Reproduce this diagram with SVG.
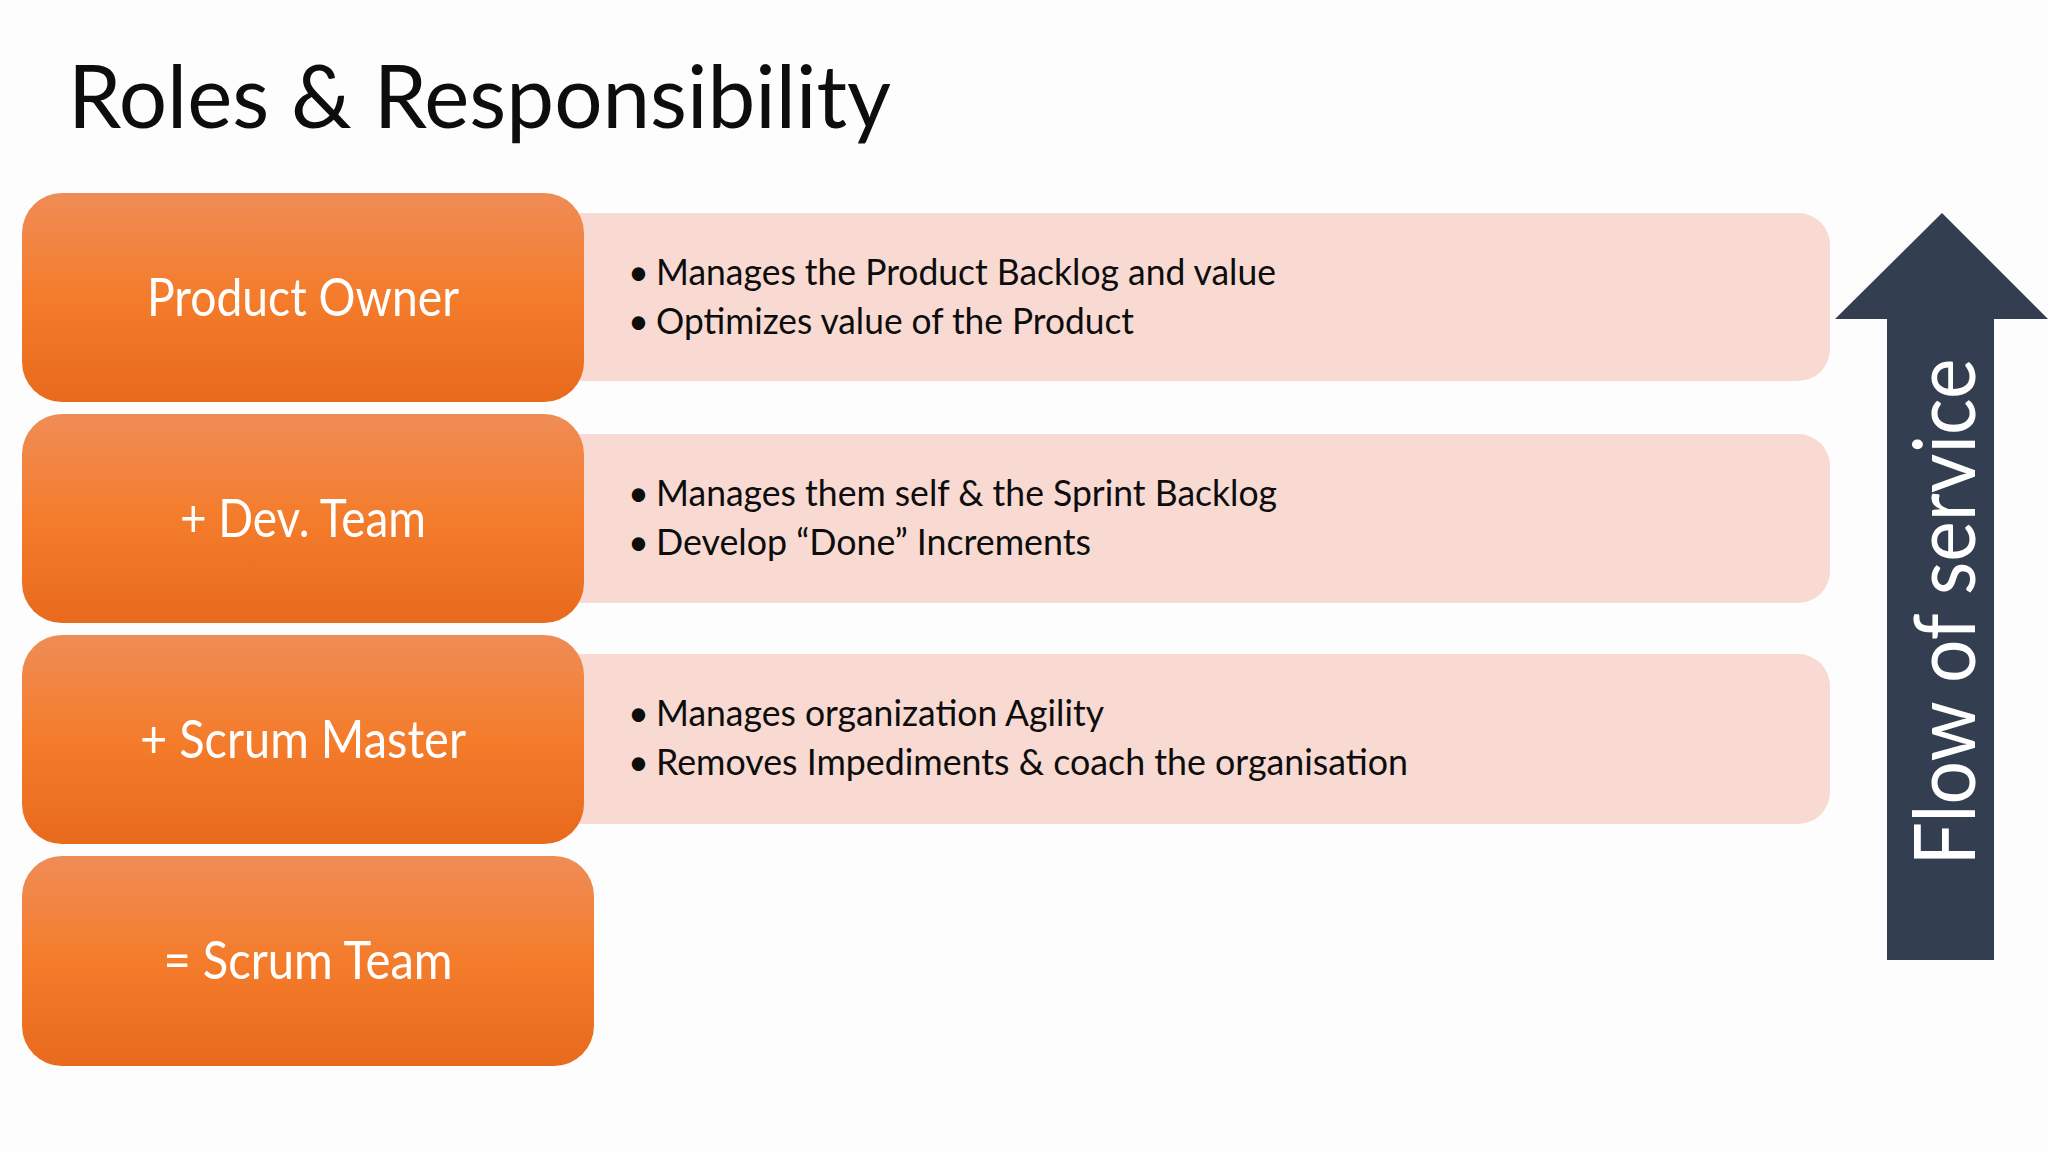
<svg xmlns="http://www.w3.org/2000/svg" width="2048" height="1152" viewBox="0 0 2048 1152">
  <style>
    .title { font-family: Lato, "Open Sans", "Liberation Sans", sans-serif; font-size: 88px; fill: #0d0d0d; }
    .role { font-family: Lato, "Open Sans", "Liberation Sans", sans-serif; font-size: 53px; fill: #ffffff; text-anchor: middle; }
    .bul { font-family: Lato, "Open Sans", "Liberation Sans", sans-serif; font-size: 36px; fill: #0d0d0d; }
    .flow { font-family: Lato, "Open Sans", "Liberation Sans", sans-serif; font-size: 86px; fill: #ffffff; text-anchor: middle; }
    .pink { fill: #f8dad2; }
    .orange { fill: url(#og); }
  </style>
  <defs>
    <linearGradient id="og" x1="0" y1="0" x2="0" y2="1">
      <stop offset="0" stop-color="#ef8c56"/>
      <stop offset="0.5" stop-color="#f47c2b"/>
      <stop offset="1" stop-color="#e86a1d"/>
    </linearGradient>
  </defs>
  <rect width="2048" height="1152" fill="#fdfdfd"/>

  <text class="title" x="68" y="128" textLength="823" lengthAdjust="spacingAndGlyphs">Roles &amp; Responsibility</text>

  <g id="desc-product-owner">
    <rect class="pink" x="540" y="213" width="1290" height="168" rx="32"/>
    <text class="bul" x="628" y="285">•</text>
    <text class="bul" x="656" y="285" textLength="620" lengthAdjust="spacingAndGlyphs">Manages the Product Backlog and value</text>
    <text class="bul" x="628" y="334">•</text>
    <text class="bul" x="656" y="334" textLength="478" lengthAdjust="spacingAndGlyphs">Optimizes value of the Product</text>
  </g>
  <g id="desc-dev-team">
    <rect class="pink" x="540" y="434" width="1290" height="169" rx="32"/>
    <text class="bul" x="628" y="506">•</text>
    <text class="bul" x="656" y="506" textLength="621" lengthAdjust="spacingAndGlyphs">Manages them self &amp; the Sprint Backlog</text>
    <text class="bul" x="628" y="555">•</text>
    <text class="bul" x="656" y="555" textLength="435" lengthAdjust="spacingAndGlyphs">Develop “Done” Increments</text>
  </g>
  <g id="desc-scrum-master">
    <rect class="pink" x="540" y="654" width="1290" height="170" rx="32"/>
    <text class="bul" x="628" y="726">•</text>
    <text class="bul" x="656" y="726" textLength="448" lengthAdjust="spacingAndGlyphs">Manages organization Agility</text>
    <text class="bul" x="628" y="775">•</text>
    <text class="bul" x="656" y="775" textLength="752" lengthAdjust="spacingAndGlyphs">Removes Impediments &amp; coach the organisation</text>
  </g>

  <g id="role-product-owner">
    <rect class="orange" x="22" y="193" width="562" height="209" rx="40"/>
    <text class="role" x="303" y="316" textLength="312" lengthAdjust="spacingAndGlyphs">Product Owner</text>
  </g>
  <g id="role-dev-team">
    <rect class="orange" x="22" y="414" width="562" height="209" rx="40"/>
    <text class="role" x="303" y="537" textLength="246" lengthAdjust="spacingAndGlyphs">+ Dev. Team</text>
  </g>
  <g id="role-scrum-master">
    <rect class="orange" x="22" y="635" width="562" height="209" rx="40"/>
    <text class="role" x="303" y="758" textLength="326" lengthAdjust="spacingAndGlyphs">+ Scrum Master</text>
  </g>
  <g id="role-scrum-team">
    <rect class="orange" x="22" y="856" width="572" height="210" rx="40"/>
    <text class="role" x="308" y="979" textLength="289" lengthAdjust="spacingAndGlyphs">= Scrum Team</text>
  </g>

  <g id="connectors">
    <g id="flow-arrow">
      <polygon points="1942,213 2048,319 1994,319 1994,960 1887,960 1887,319 1835,319" fill="#333f50"/>
      <text class="flow" transform="translate(1975,612) rotate(-90)" x="0" y="0" textLength="507" lengthAdjust="spacingAndGlyphs">Flow of service</text>
    </g>
  </g>
</svg>
